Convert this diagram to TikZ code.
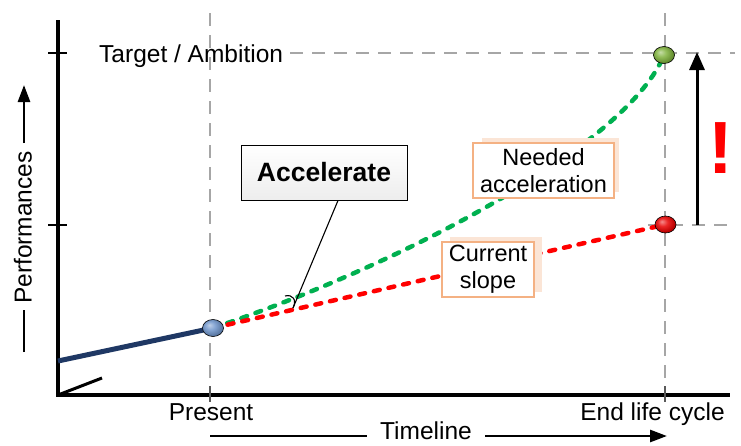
\documentclass[tikz,border=0pt]{standalone}
\usepackage{fontspec}
\setmainfont{Liberation Sans}
\usetikzlibrary{arrows.meta,shapes.geometric}
\definecolor{guide}{HTML}{A6A6A6}
\definecolor{navy}{HTML}{1F3864}
\definecolor{needgreen}{HTML}{00B050}
\definecolor{boxedge}{HTML}{F4B183}
\definecolor{boxshade}{HTML}{FBE5D6}
\definecolor{ballblue}{HTML}{6F95CB}
\definecolor{ballgreen}{HTML}{7FB23C}
\definecolor{ballred}{HTML}{E80000}
% a softer glossy ball: light upper left, darker lower right, never black
\makeatletter
\pgfdeclareradialshading[tikz@ball]{softball}{\pgfqpoint{-9bp}{9bp}}{%
  color(0bp)=(tikz@ball!45!white);
  color(12bp)=(tikz@ball!85!white);
  color(26bp)=(tikz@ball!80!black);
  color(50bp)=(tikz@ball!55!black)}
\makeatother
\begin{document}
\begin{tikzpicture}[x=1pt,y=-1pt,
  guideline/.style={guide, line width=1.3pt, dash pattern=on 13pt off 9pt},
  axisline/.style={black, line width=3.3pt},
  trend/.style={line width=4.5pt, line cap=round, dash pattern=on 6pt off 9pt},
  ballnode/.style={ellipse, draw=black, line width=0.6pt, minimum width=21pt, minimum height=17pt, inner sep=0pt},
  glossy/.style={ball color=#1, shading=softball},
  axistext/.style={font=\fontsize{24.5}{28}\selectfont, inner sep=0pt},
  notebox/.style={draw=boxedge, line width=1.3pt, fill=white, align=center, inner sep=0pt, font=\fontsize{23.5}{27}\selectfont},
  shadowbox/.style={fill=boxshade},
  bigarrow/.style={line width=2.7pt, -{Triangle[length=17pt,width=12pt]}},
  ]

\useasboundingbox (0,0) rectangle (741,445);

% guide lines for the two milestones and the two levels
\draw[guideline] (210,13) -- (210,395);
\draw[guideline] (665,13) -- (665,395);
\draw[guideline] (290,53) -- (735,53);
\draw[guideline] (648,225) -- (735,225);

% axes
\coordinate (origin) at (58,395);
\coordinate (ytop) at (58,20);
\coordinate (xend) at (730,395);
\draw[axisline] (ytop) -- (origin) -- (xend);
\draw[line width=3pt] (origin) -- (102,378);
\draw[line width=1.5pt] (48,53) -- (67,53);
\draw[line width=1.5pt] (48,225) -- (67,225);
\draw[gray!70!black, line width=1.3pt] (210,386) -- (210,402);
\draw[gray!70!black, line width=1.3pt] (665,386) -- (665,402);

% axis labels
\node[axistext, anchor=base west] (target) at (99,62.5) {Target / Ambition};
\node[axistext, anchor=base] (present) at (211,420.5) {Present};
\node[axistext, anchor=base] (endlife) at (652.5,420.5) {End life cycle};
\node[axistext, anchor=base] (timeline) at (426,439.5) {Timeline};
\node[axistext, anchor=base, rotate=90] (perf) at (31.5,227.5) {Performances};

\coordinate (pstart) at (24,352);
\coordinate (pmid) at (24,310);
\coordinate (pfoot) at (24,143);
\coordinate (phead) at (24,85);
\draw[line width=2.7pt] (pstart) -- (pmid);
\draw[bigarrow] (pfoot) -- (phead);

\coordinate (tstart) at (210,436);
\coordinate (tmid) at (367,436);
\coordinate (tfoot) at (485,436);
\coordinate (thead) at (667,436);
\draw[line width=2.7pt] (tstart) -- (tmid);
\draw[bigarrow] (tfoot) -- (thead);

% history up to now
\coordinate (past) at (58,361);
\coordinate (now) at (213,328);
\coordinate (goal) at (664,55);
\coordinate (trendend) at (665.5,224.5);
\draw[navy, line width=5pt] (past) -- (now);

% projections
\draw[trend, needgreen] (now) .. controls (420,258) and (630,140) .. (goal);
\draw[trend, red] (now) -- (trendend);

% callout boxes
\fill[shadowbox] (482,138) rectangle (619,192);
\node[notebox, minimum width=141pt, minimum height=55pt] (need) at (543.5,170.5) {Needed\\acceleration};
\fill[shadowbox] (450,237) rectangle (542,292);
\node[notebox, minimum width=92pt, minimum height=55pt] (cur) at (488,269.5) {Current\\slope};

\node[draw=black, line width=1pt, top color=white, bottom color=gray!14,
      minimum width=166pt, minimum height=55pt, inner sep=0pt,
      font=\bfseries\fontsize{26.5}{30}\selectfont] (acc) at (324,172.5) {Accelerate};
\coordinate (acctip) at (293,308);
\draw[line width=1.1pt] ([xshift=14pt]acc.south) -- (acctip);
\draw[line width=1.1pt] (285,296) .. controls (293,294) and (297,300) .. (acctip);

% milestone markers
\node[ballnode, glossy=ballblue] (nowball) at (now) {};
\node[ballnode, glossy=ballgreen] (goalball) at (goal) {};
\node[ballnode, glossy=ballred] (endball) at (trendend) {};

% gap to close
\coordinate (gapbot) at (697,225);
\coordinate (gaptop) at (697,52);
\draw[line width=3pt, -{Triangle[length=18pt,width=15pt]}] (gapbot) -- (gaptop);
\node[text=red, font=\bfseries\fontsize{74}{80}\selectfont, anchor=base, inner sep=0pt] (warn) at (721,173) {!};

\end{tikzpicture}
\end{document}
